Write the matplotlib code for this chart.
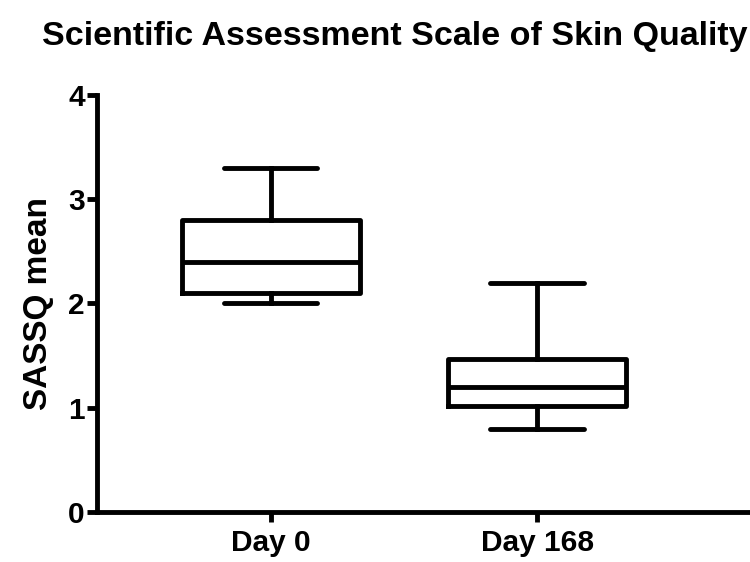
import matplotlib
matplotlib.use("Agg")
import matplotlib.pyplot as plt

# Datos (mín, Q1, mediana, Q3, máx)
categories = ["Day 0", "Day 168"]
whisker_low = [2.0, 0.8]
q1 = [2.1, 1.02]
medians = [2.4, 1.2]
q3 = [2.8, 1.47]
whisker_high = [3.3, 2.2]
y_ticks = [0, 1, 2, 3, 4]

plt.rcParams['font.family'] = ['Liberation Sans', 'DejaVu Sans']
plt.rcParams['font.weight'] = 'bold'

fig = plt.figure(figsize=(7.5, 5.62), dpi=100)
ax = fig.add_axes([0.129, 0.089, 0.871, 0.742])

stats = []
for i, name in enumerate(categories):
    stats.append(dict(label=name, whislo=whisker_low[i], q1=q1[i], med=medians[i],
                      q3=q3[i], whishi=whisker_high[i], fliers=[]))

lw = 3.5
ax.bxp(stats, positions=[1, 2], widths=0.67, showfliers=False,
       boxprops=dict(color='black', linewidth=lw),
       medianprops=dict(color='black', linewidth=lw),
       whiskerprops=dict(color='black', linewidth=lw),
       capprops=dict(color='black', linewidth=lw, solid_capstyle='round'),
       capwidths=0.35)

ax.set_xlim(0.346, 2.8)
ax.set_ylim(0, 4)
ax.set_yticks(y_ticks)
ax.set_xticks([1, 2])
ax.set_xticklabels(categories)

for side in ['top', 'right']:
    ax.spines[side].set_visible(False)
for side in ['left', 'bottom']:
    ax.spines[side].set_linewidth(3.5)
ax.spines['left'].set_bounds(0, 4)

ax.tick_params(axis='both', direction='out', length=7, width=3.5, labelsize=21.5)
ax.tick_params(axis='y', pad=1.5)
ax.tick_params(axis='x', pad=5)
for lab in ax.get_xticklabels() + ax.get_yticklabels():
    lab.set_fontweight('bold')

ax.set_ylabel('SASSQ mean', fontsize=24, fontweight='bold', labelpad=10)
fig.text(0.056, 0.935, 'Scientific Assessment Scale of Skin Quality',
         fontsize=24.5, fontweight='bold', ha='left', va='center')

fig.savefig('out.png', dpi=100)
